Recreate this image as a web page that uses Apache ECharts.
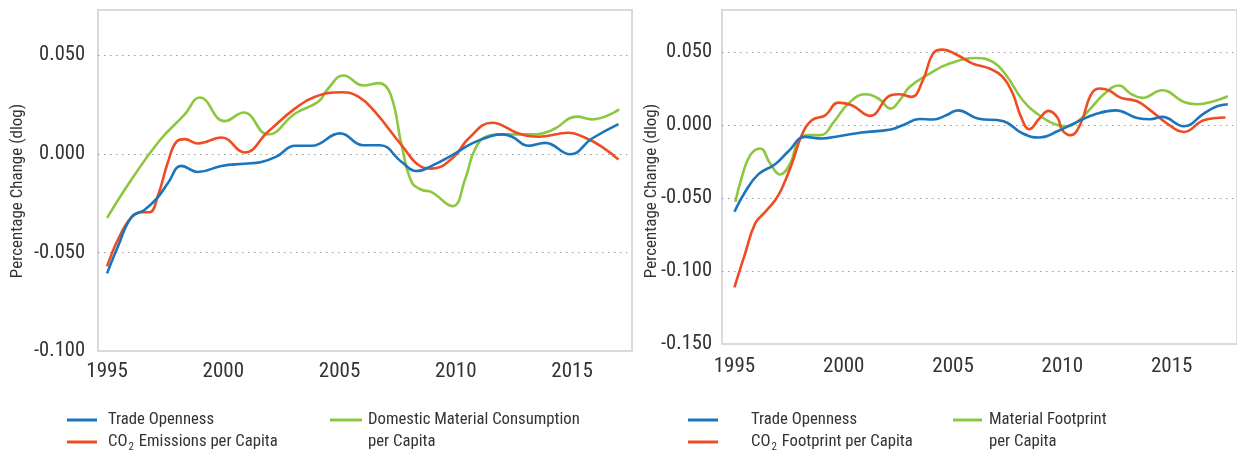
<!DOCTYPE html>
<html>
<head>
<meta charset="utf-8">
<style>
  html, body { margin: 0; padding: 0; background: #ffffff; }
  #chart { width: 1237px; height: 453px; }
</style>
<script src="https://cdn.jsdelivr.net/npm/echarts@6/dist/echarts.min.js"></script>
</head>
<body>
<div id="chart"></div>
<script>
// Year ticks shown on both horizontal axes
const yearTicks = [1995, 2000, 2005, 2010, 2015];

// Left panel: trade openness, CO2 emissions and domestic material consumption (dlog)
const tradeOpennessLeft = [
  [1995.0, -0.0606], [1995.48, -0.0466], [1996.05, -0.0321], [1996.62, -0.0283],
  [1997.19, -0.0219], [1997.62, -0.0148], [1998.2, -0.0061], [1998.91, -0.0092],
  [1999.92, -0.0061], [2000.92, -0.0050], [2001.64, -0.0041], [2002.28, -0.0014],
  [2003.09, 0.0041], [2003.8, 0.0041], [2005.02, 0.0104], [2006.02, 0.0044],
  [2006.74, 0.0044], [2007.67, -0.0041], [2008.31, -0.0087], [2008.96, -0.0061],
  [2009.9, -0.0003], [2010.7, 0.0053], [2011.56, 0.0092], [2011.99, 0.0099],
  [2012.42, 0.0087], [2013.13, 0.0041], [2013.85, 0.0056], [2014.92, -0.0002],
  [2015.86, 0.0078], [2017.0, 0.0151]
];
const co2EmissionsLeft = [
  [1995.0, -0.0571], [1995.48, -0.0432], [1996.05, -0.0321], [1996.48, -0.0296],
  [1996.83, -0.0296], [1997.19, -0.0211], [1997.62, -0.0041], [1997.98, 0.0061],
  [1998.34, 0.0075], [1998.91, 0.0053], [1999.92, 0.0083], [2000.92, 0.0007],
  [2001.92, 0.0112], [2003.09, 0.0231], [2003.95, 0.0290], [2005.09, 0.0313],
  [2005.81, 0.0290], [2006.52, 0.0214], [2007.67, 0.0044], [2008.53, -0.0066],
  [2008.96, -0.0075], [2009.9, -0.0017], [2010.55, 0.0078], [2011.56, 0.0158],
  [2012.7, 0.0104], [2013.56, 0.0087], [2014.85, 0.0107], [2015.57, 0.0082],
  [2016.29, 0.0036], [2017.0, -0.0029]
];
const materialConsumptionLeft = [
  [1995.0, -0.0325], [1996.05, -0.0130], [1997.27, 0.0069], [1998.34, 0.0200],
  [1998.99, 0.0286], [2000.06, 0.0166], [2000.88, 0.0210], [2001.92, 0.0098],
  [2003.09, 0.0205], [2004.09, 0.0265], [2004.52, 0.0333], [2005.17, 0.0398],
  [2006.03, 0.0347], [2006.7, 0.0359], [2007.2, 0.0300], [2007.67, 0.0044],
  [2008.1, -0.0143], [2008.53, -0.0182], [2008.96, -0.0194], [2009.86, -0.0265],
  [2010.41, -0.0126], [2010.84, 0.0027], [2011.41, 0.0092], [2012.13, 0.0099],
  [2013.28, 0.0099], [2014.14, 0.0121], [2015.22, 0.0189], [2015.86, 0.0175],
  [2017.03, 0.0226]
];

// Right panel: trade openness, CO2 footprint and material footprint (dlog)
const tradeOpennessRight = [
  [1995.0, -0.0595], [1995.49, -0.0458], [1996.1, -0.0337], [1996.86, -0.0269],
  [1997.47, -0.0180], [1998.23, -0.0082], [1999.0, -0.0093], [1999.76, -0.0077],
  [2000.82, -0.0052], [2002.15, -0.0031], [2002.7, -0.0002], [2003.47, 0.0041],
  [2004.08, 0.0037], [2004.69, 0.0066], [2005.22, 0.0100], [2006.13, 0.0044],
  [2007.27, 0.0027], [2008.19, -0.0059], [2008.95, -0.0086], [2009.8, -0.0042],
  [2010.68, 0.0021], [2011.6, 0.0078], [2012.43, 0.0100], [2013.42, 0.0048],
  [2014.03, 0.0039], [2014.57, 0.0055], [2015.56, -0.0009], [2016.47, 0.0078],
  [2017.08, 0.0128], [2017.57, 0.0142]
];
const co2FootprintRight = [
  [1995.0, -0.1112], [1995.49, -0.0880], [1995.95, -0.0674], [1996.41, -0.0595],
  [1996.86, -0.0515], [1997.17, -0.0435], [1997.63, -0.0264], [1998.08, -0.0070],
  [1998.54, 0.0032], [1999.15, 0.0066], [1999.76, 0.0153], [2000.37, 0.0135],
  [2001.2, 0.0062], [2002.15, 0.0203], [2002.56, 0.0210], [2003.09, 0.0192],
  [2003.62, 0.0306], [2004.08, 0.0488], [2004.53, 0.0516], [2005.15, 0.0482],
  [2005.9, 0.0420], [2006.67, 0.0386], [2007.27, 0.0329], [2007.73, 0.0215],
  [2008.11, 0.0055], [2008.49, -0.0029], [2008.95, 0.0044], [2009.37, 0.0096],
  [2009.78, 0.0050], [2010.0, -0.0036], [2010.38, -0.0070], [2010.84, 0.0010],
  [2011.29, 0.0203], [2011.68, 0.0249], [2012.13, 0.0237], [2012.66, 0.0187],
  [2013.42, 0.0162], [2014.03, 0.0100], [2014.79, 0.0010], [2015.56, -0.0048],
  [2016.47, 0.0032], [2017.46, 0.0051]
];
const materialFootprintRight = [
  [1995.04, -0.0527], [1995.34, -0.0356], [1995.72, -0.0207], [1996.18, -0.0161],
  [1996.63, -0.0264], [1997.09, -0.0339], [1997.55, -0.0264], [1997.93, -0.0105],
  [1998.39, -0.0070], [1998.92, -0.0070], [1999.6, 0.0032], [2000.21, 0.0146],
  [2000.97, 0.0210], [2001.58, 0.0181], [2002.15, 0.0112], [2002.56, 0.0169],
  [2003.01, 0.0260], [2003.93, 0.0352], [2004.84, 0.0420], [2006.06, 0.0458],
  [2006.82, 0.0431], [2007.43, 0.0340], [2008.19, 0.0169], [2008.95, 0.0066],
  [2009.8, -0.0002], [2010.23, -0.0009], [2010.68, 0.0021], [2011.29, 0.0112],
  [2011.9, 0.0210], [2012.59, 0.0270], [2013.12, 0.0215], [2013.65, 0.0185],
  [2014.57, 0.0237], [2015.56, 0.0157], [2016.16, 0.0142], [2016.93, 0.0162],
  [2017.57, 0.0196]
];

const BLUE = '#1b75bc';
const RED = '#ef4c23';
const GREEN = '#8dc63f';
const TEXT = '#333333';
const FONT = '"Liberation Sans Narrow", "Roboto Condensed", "DejaVu Sans Condensed", sans-serif';

function tickLabel(v) {
  const k = Math.round(v / 0.05);
  if (Math.abs(v - k * 0.05) > 1e-6) return '';
  const r = Math.abs(v) < 1e-9 ? 0 : v;
  return r.toFixed(3);
}

function xAxisFor(gridIndex, min, max, margin) {
  return {
    gridIndex, type: 'value', min, max,
    axisLine: { show: false }, axisTick: { show: false }, splitLine: { show: false },
    axisLabel: {
      customValues: yearTicks, margin, fontSize: 21, color: TEXT, fontFamily: FONT,
      formatter: (v) => String(Math.round(v))
    }
  };
}

function yAxisFor(gridIndex, min, max, margin) {
  return {
    gridIndex, type: 'value', min, max, interval: 0.05,
    axisLine: { show: false }, axisTick: { show: false },
    axisLabel: { formatter: tickLabel, margin, fontSize: 20.5, color: TEXT, fontFamily: FONT },
    splitLine: {
      show: true, showMinLine: false, showMaxLine: false,
      lineStyle: { color: '#9a9a9a', width: 1.2, type: [1.5, 4.5] }
    }
  };
}

function lineSeries(name, data, color, idx) {
  return {
    name, type: 'line', data, xAxisIndex: idx, yAxisIndex: idx,
    showSymbol: false, smooth: 0.45, clip: true,
    lineStyle: { color, width: 2.6 }, itemStyle: { color }
  };
}

function legendLine(x1, x2, y, color) {
  return { type: 'line', shape: { x1, y1: y, x2, y2: y }, style: { stroke: color, lineWidth: 3 } };
}
function legendText(x, y, text) {
  return {
    type: 'text', x, y,
    style: {
      text, fontSize: 16.7, fontFamily: FONT, fill: TEXT, verticalAlign: 'middle', align: 'left',
      rich: { s: { fontSize: 11, fontFamily: FONT, fill: TEXT, padding: [10, 1, 0, 1] } }
    }
  };
}
function legendText2(x, y, text) {
  return {
    type: 'text', x, y: y - 11,
    style: {
      text, fontSize: 16.7, fontFamily: FONT, fill: TEXT, verticalAlign: 'top', align: 'left', lineHeight: 22
    }
  };
}
function axisName(x, y) {
  return {
    type: 'text', x, y, rotation: Math.PI / 2,
    style: {
      text: 'Percentage Change (dlog)', fontSize: 17, fontFamily: FONT, fill: TEXT,
      align: 'center', verticalAlign: 'middle'
    }
  };
}

const chart = echarts.init(document.getElementById('chart'), null, { renderer: 'canvas' });
chart.setOption({
  animation: false,
  backgroundColor: '#ffffff',
  grid: [
    { left: 98, top: 10, width: 534, height: 341, show: true, borderColor: '#dadada', borderWidth: 2 },
    { left: 722, top: 10, width: 516, height: 334, show: true, borderColor: '#dadada', borderWidth: 2 }
  ],
  xAxis: [
    xAxisFor(0, 1994.61, 2017.58, 10),
    xAxisFor(1, 1994.43, 2017.99, 12)
  ],
  yAxis: [
    yAxisFor(0, -0.1, 0.073, 13),
    yAxisFor(1, -0.15, 0.0787, 10)
  ],
  series: [
    lineSeries('Domestic Material Consumption per Capita', materialConsumptionLeft, GREEN, 0),
    lineSeries('CO2 Emissions per Capita', co2EmissionsLeft, RED, 0),
    lineSeries('Trade Openness', tradeOpennessLeft, BLUE, 0),
    lineSeries('Material Footprint per Capita', materialFootprintRight, GREEN, 1),
    lineSeries('CO2 Footprint per Capita', co2FootprintRight, RED, 1),
    lineSeries('Trade Openness ', tradeOpennessRight, BLUE, 1)
  ],
  graphic: [
    axisName(18, 191),
    axisName(652, 191),
    legendLine(67, 97, 420, BLUE),
    legendText(108, 420, 'Trade Openness'),
    legendLine(67, 97, 442, RED),
    legendText(108, 442, 'CO{s|2} Emissions per Capita'),
    legendLine(330, 362, 420, GREEN),
    legendText2(368, 420, 'Domestic Material Consumption\nper Capita'),
    legendLine(688, 718, 420, BLUE),
    legendText(751, 420, 'Trade Openness'),
    legendLine(688, 718, 442, RED),
    legendText(751, 442, 'CO{s|2} Footprint per Capita'),
    legendLine(953, 982, 420, GREEN),
    legendText2(989, 420, 'Material Footprint\nper Capita')
  ]
});
</script>
</body>
</html>
